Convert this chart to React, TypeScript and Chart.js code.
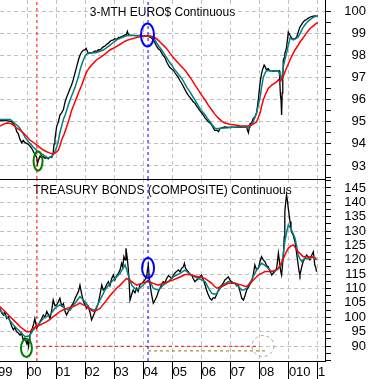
import React, { useEffect, useRef } from 'react';
import { Chart, registerables } from 'chart.js';

Chart.register(...registerables);

type P = [number, number];

// ---------- axis data ----------
const yearTicks = [1999, 2000, 2001, 2002, 2003, 2004, 2005, 2006, 2007, 2008, 2009, 2010];
const yearLabels = ['99', '00', '01', '02', '03', '04', '05', '06', '07', '08', '010', '1'];
const euroAxisTicks = [92.5, 93, 93.5, 94, 94.5, 95, 95.5, 96, 96.5, 97, 97.5, 98, 98.5, 99, 99.5, 100];
const bondAxisTicks = [85, 87.5, 90, 92.5, 95, 97.5, 100, 102.5, 105, 107.5, 110, 112.5, 115, 117.5, 120, 122.5, 125, 127.5, 130, 132.5, 135, 137.5, 140, 142.5, 145, 147.5];

const topTitle = '3-MTH EURO$ Continuous';
const bottomTitle = 'TREASURY BONDS (COMPOSITE) Continuous';

// ---------- series data (decimal year, value) ----------
const euroClose: P[] = [
  [1999.07, 95.05], [1999.30, 95.05], [1999.47, 95.0], [1999.53, 94.9], [1999.59, 94.8], [1999.65, 94.55], [1999.70, 94.45], [1999.76, 94.2], [1999.82, 94.04], [1999.87, 94.15], [1999.93, 94.05], [2000.02, 94.0], [2000.10, 93.9], [2000.16, 93.8], [2000.22, 93.65], [2000.28, 93.5], [2000.33, 93.4], [2000.36, 93.1], [2000.39, 93.25], [2000.45, 93.45], [2000.50, 93.38], [2000.56, 93.42], [2000.62, 93.35], [2000.68, 93.38], [2000.73, 93.32], [2000.79, 93.4], [2000.85, 93.38], [2000.90, 93.6], [2000.93, 94.0], [2000.96, 94.2], [2000.99, 94.5], [2001.02, 94.8], [2001.08, 95.0], [2001.13, 95.3], [2001.19, 95.4], [2001.25, 95.55], [2001.31, 95.9], [2001.36, 96.1], [2001.42, 96.3], [2001.48, 96.5], [2001.53, 96.65], [2001.59, 96.9], [2001.65, 97.2], [2001.71, 97.5], [2001.77, 97.8], [2001.82, 98.0], [2001.88, 98.15], [2001.94, 98.24], [2001.99, 98.25], [2002.03, 98.32], [2002.07, 98.2], [2002.11, 98.08], [2002.16, 98.12], [2002.22, 98.1], [2002.28, 98.15], [2002.34, 98.2], [2002.40, 98.18], [2002.45, 98.25], [2002.51, 98.24], [2002.57, 98.32], [2002.62, 98.38], [2002.68, 98.42], [2002.74, 98.5], [2002.80, 98.55], [2002.85, 98.62], [2002.91, 98.68], [2002.97, 98.7], [2003.02, 98.75], [2003.08, 98.72], [2003.14, 98.8], [2003.20, 98.82], [2003.25, 98.85], [2003.31, 98.88], [2003.37, 98.92], [2003.42, 98.95], [2003.45, 99.08], [2003.48, 98.95], [2003.54, 98.9], [2003.65, 98.9], [2003.77, 98.88], [2003.88, 98.9], [2004.00, 98.87], [2004.08, 98.88], [2004.17, 98.85], [2004.26, 98.8], [2004.34, 98.7], [2004.40, 98.55], [2004.46, 98.4], [2004.51, 98.3], [2004.57, 98.24], [2004.63, 98.1], [2004.68, 98.0], [2004.74, 97.9], [2004.80, 97.7], [2004.86, 97.56], [2004.91, 97.45], [2004.97, 97.38], [2005.03, 97.33], [2005.09, 97.2], [2005.14, 97.1], [2005.20, 97.0], [2005.26, 96.85], [2005.31, 96.75], [2005.37, 96.6], [2005.43, 96.45], [2005.49, 96.3], [2005.54, 96.2], [2005.60, 96.1], [2005.66, 96.0], [2005.71, 95.9], [2005.77, 95.84], [2005.83, 95.7], [2005.89, 95.6], [2005.94, 95.5], [2006.00, 95.4], [2006.06, 95.3], [2006.12, 95.16], [2006.17, 95.1], [2006.23, 95.0], [2006.29, 94.94], [2006.35, 94.85], [2006.40, 94.72], [2006.46, 94.6], [2006.52, 94.62], [2006.58, 94.55], [2006.63, 94.68], [2006.69, 94.72], [2006.80, 94.76], [2006.92, 94.74], [2007.03, 94.75], [2007.15, 94.74], [2007.26, 94.76], [2007.38, 94.75], [2007.49, 94.77], [2007.55, 94.76], [2007.58, 94.6], [2007.61, 94.5], [2007.64, 94.75], [2007.66, 94.9], [2007.72, 94.95], [2007.78, 95.16], [2007.83, 95.2], [2007.89, 95.4], [2007.92, 95.7], [2007.95, 96.0], [2007.98, 96.4], [2008.01, 96.75], [2008.05, 97.1], [2008.09, 97.33], [2008.12, 97.45], [2008.15, 97.56], [2008.18, 97.5], [2008.23, 97.35], [2008.29, 97.4], [2008.35, 97.3], [2008.41, 97.3], [2008.47, 97.28], [2008.52, 97.3], [2008.58, 97.3], [2008.64, 97.28], [2008.67, 97.3], [2008.69, 96.75], [2008.71, 96.2], [2008.73, 95.98], [2008.75, 95.3], [2008.77, 96.3], [2008.79, 97.0], [2008.81, 97.8], [2008.84, 97.9], [2008.86, 98.1], [2008.89, 98.2], [2008.92, 98.37], [2008.95, 98.7], [2008.98, 99.05], [2009.02, 98.95], [2009.07, 98.83], [2009.11, 98.75], [2009.15, 98.73], [2009.21, 98.75], [2009.27, 98.83], [2009.32, 99.05], [2009.38, 99.28], [2009.44, 99.4], [2009.49, 99.5], [2009.55, 99.58], [2009.61, 99.62], [2009.67, 99.68], [2009.72, 99.72], [2009.78, 99.75], [2009.84, 99.77], [2009.89, 99.78], [2009.95, 99.77], [2009.99, 99.78],
];

const euroFastAvg: P[] = [
  [1999.07, 95.1], [1999.30, 95.1], [1999.42, 95.1], [1999.50, 95.02], [1999.59, 94.92], [1999.68, 94.82], [1999.76, 94.7], [1999.85, 94.5], [1999.93, 94.3], [2000.02, 94.15], [2000.10, 94.02], [2000.22, 93.85], [2000.33, 93.7], [2000.45, 93.58], [2000.56, 93.5], [2000.65, 93.42], [2000.73, 93.36], [2000.82, 93.4], [2000.90, 93.5], [2000.96, 93.65], [2001.02, 93.86], [2001.08, 94.15], [2001.13, 94.5], [2001.19, 94.8], [2001.25, 95.1], [2001.31, 95.3], [2001.36, 95.5], [2001.42, 95.75], [2001.48, 95.98], [2001.53, 96.15], [2001.59, 96.35], [2001.65, 96.55], [2001.71, 96.8], [2001.77, 97.05], [2001.82, 97.33], [2001.88, 97.58], [2001.94, 97.8], [2001.99, 97.95], [2002.05, 98.06], [2002.13, 98.1], [2002.22, 98.1], [2002.39, 98.13], [2002.51, 98.18], [2002.62, 98.24], [2002.74, 98.35], [2002.85, 98.46], [2002.97, 98.58], [2003.08, 98.7], [2003.20, 98.77], [2003.31, 98.83], [2003.42, 98.88], [2003.54, 98.9], [2003.71, 98.9], [2003.88, 98.9], [2004.05, 98.88], [2004.17, 98.87], [2004.26, 98.85], [2004.34, 98.8], [2004.40, 98.7], [2004.46, 98.55], [2004.54, 98.4], [2004.63, 98.24], [2004.71, 98.08], [2004.80, 97.9], [2004.88, 97.72], [2004.97, 97.56], [2005.05, 97.4], [2005.14, 97.25], [2005.23, 97.1], [2005.31, 96.97], [2005.37, 96.85], [2005.43, 96.7], [2005.51, 96.52], [2005.60, 96.35], [2005.69, 96.15], [2005.77, 95.98], [2005.86, 95.78], [2005.94, 95.6], [2006.03, 95.45], [2006.12, 95.3], [2006.20, 95.15], [2006.29, 95.0], [2006.37, 94.85], [2006.46, 94.7], [2006.55, 94.68], [2006.63, 94.7], [2006.80, 94.72], [2006.92, 94.73], [2007.09, 94.75], [2007.26, 94.76], [2007.49, 94.77], [2007.61, 94.76], [2007.66, 94.78], [2007.72, 94.88], [2007.78, 95.0], [2007.83, 95.2], [2007.89, 95.4], [2007.95, 95.75], [2008.01, 96.1], [2008.06, 96.55], [2008.12, 97.0], [2008.18, 97.2], [2008.23, 97.3], [2008.41, 97.3], [2008.58, 97.29], [2008.64, 97.28], [2008.68, 97.2], [2008.73, 96.9], [2008.77, 97.1], [2008.81, 97.5], [2008.86, 97.8], [2008.92, 98.1], [2008.98, 98.45], [2009.04, 98.78], [2009.09, 98.74], [2009.15, 98.7], [2009.24, 98.75], [2009.32, 98.83], [2009.38, 98.98], [2009.44, 99.14], [2009.49, 99.26], [2009.55, 99.37], [2009.63, 99.5], [2009.72, 99.6], [2009.84, 99.72], [2009.95, 99.77], [2009.99, 99.77],
];

const euroSlowAvg: P[] = [
  [1999.07, 94.8], [1999.18, 94.88], [1999.30, 94.94], [1999.40, 94.93], [1999.47, 94.9], [1999.55, 94.82], [1999.64, 94.72], [1999.76, 94.62], [1999.87, 94.5], [1999.99, 94.33], [2000.10, 94.17], [2000.22, 94.06], [2000.33, 93.95], [2000.45, 93.83], [2000.56, 93.72], [2000.68, 93.64], [2000.79, 93.58], [2000.90, 93.54], [2000.99, 93.6], [2001.08, 93.72], [2001.13, 93.9], [2001.19, 94.17], [2001.28, 94.45], [2001.36, 94.76], [2001.45, 95.12], [2001.53, 95.5], [2001.62, 95.8], [2001.71, 96.1], [2001.79, 96.38], [2001.88, 96.65], [2001.96, 96.95], [2002.05, 97.25], [2002.13, 97.42], [2002.22, 97.56], [2002.31, 97.68], [2002.39, 97.8], [2002.51, 97.9], [2002.62, 98.0], [2002.74, 98.12], [2002.85, 98.24], [2002.97, 98.32], [2003.08, 98.4], [2003.20, 98.5], [2003.31, 98.6], [2003.42, 98.67], [2003.54, 98.72], [2003.65, 98.76], [2003.77, 98.8], [2003.88, 98.84], [2004.00, 98.87], [2004.11, 98.88], [2004.23, 98.87], [2004.32, 98.84], [2004.40, 98.8], [2004.48, 98.72], [2004.57, 98.6], [2004.68, 98.46], [2004.80, 98.3], [2004.91, 98.1], [2005.03, 97.9], [2005.14, 97.73], [2005.26, 97.56], [2005.34, 97.45], [2005.43, 97.33], [2005.54, 97.12], [2005.66, 96.9], [2005.77, 96.66], [2005.89, 96.43], [2006.00, 96.2], [2006.12, 95.98], [2006.23, 95.75], [2006.35, 95.53], [2006.46, 95.33], [2006.58, 95.16], [2006.69, 95.03], [2006.80, 94.94], [2006.97, 94.88], [2007.15, 94.85], [2007.32, 94.82], [2007.49, 94.8], [2007.61, 94.82], [2007.72, 94.85], [2007.83, 94.93], [2007.89, 95.0], [2007.95, 95.18], [2008.01, 95.4], [2008.06, 95.68], [2008.12, 95.98], [2008.20, 96.25], [2008.29, 96.5], [2008.41, 96.65], [2008.58, 96.8], [2008.64, 96.9], [2008.69, 96.82], [2008.75, 96.9], [2008.81, 97.05], [2008.86, 97.25], [2008.95, 97.52], [2009.04, 97.8], [2009.12, 98.02], [2009.21, 98.24], [2009.30, 98.42], [2009.38, 98.6], [2009.47, 98.75], [2009.55, 98.9], [2009.63, 99.05], [2009.72, 99.2], [2009.84, 99.33], [2009.95, 99.45], [2009.99, 99.48],
];

const bondClose: P[] = [
  [1999.07, 103.1], [1999.13, 101.5], [1999.19, 100.8], [1999.24, 101.8], [1999.30, 99.6], [1999.36, 100.2], [1999.42, 98.5], [1999.47, 97.0], [1999.53, 95.6], [1999.58, 96.5], [1999.64, 95.0], [1999.70, 94.5], [1999.76, 93.8], [1999.81, 94.6], [1999.87, 92.1], [1999.93, 92.8], [1999.99, 90.9], [2000.02, 91.8], [2000.05, 89.8], [2000.08, 92.0], [2000.10, 93.8], [2000.16, 95.5], [2000.22, 97.3], [2000.27, 99.6], [2000.30, 98.0], [2000.33, 96.2], [2000.39, 97.2], [2000.45, 98.5], [2000.50, 99.5], [2000.56, 100.8], [2000.62, 100.0], [2000.68, 102.0], [2000.73, 101.0], [2000.79, 99.6], [2000.85, 102.5], [2000.90, 106.0], [2000.96, 104.0], [2001.02, 104.3], [2001.08, 105.5], [2001.13, 106.6], [2001.19, 104.0], [2001.25, 104.8], [2001.31, 102.0], [2001.36, 100.8], [2001.42, 102.0], [2001.48, 103.1], [2001.53, 104.0], [2001.59, 104.9], [2001.65, 106.5], [2001.71, 107.8], [2001.77, 109.0], [2001.82, 111.2], [2001.88, 108.0], [2001.94, 105.4], [2001.99, 104.5], [2002.05, 103.1], [2002.10, 103.8], [2002.16, 102.0], [2002.22, 99.1], [2002.28, 100.5], [2002.34, 102.0], [2002.40, 103.5], [2002.45, 104.9], [2002.51, 108.0], [2002.57, 111.2], [2002.62, 109.5], [2002.68, 110.1], [2002.74, 111.5], [2002.80, 112.4], [2002.85, 111.0], [2002.91, 113.5], [2002.97, 114.7], [2003.02, 113.0], [2003.08, 114.5], [2003.14, 115.3], [2003.20, 116.5], [2003.25, 118.8], [2003.29, 117.5], [2003.33, 121.1], [2003.37, 120.0], [2003.40, 124.0], [2003.44, 121.0], [2003.48, 117.0], [2003.51, 112.0], [2003.54, 106.0], [2003.60, 108.0], [2003.65, 109.5], [2003.71, 108.5], [2003.77, 110.1], [2003.82, 109.0], [2003.88, 111.2], [2003.94, 111.8], [2004.00, 112.4], [2004.05, 113.0], [2004.11, 114.1], [2004.14, 116.5], [2004.17, 118.2], [2004.20, 114.0], [2004.23, 111.2], [2004.28, 108.0], [2004.34, 104.9], [2004.40, 106.0], [2004.46, 107.2], [2004.51, 108.8], [2004.57, 110.1], [2004.63, 111.5], [2004.68, 112.4], [2004.74, 112.0], [2004.80, 113.5], [2004.86, 114.5], [2004.91, 114.1], [2004.97, 113.5], [2005.03, 114.7], [2005.09, 115.5], [2005.14, 115.9], [2005.20, 116.5], [2005.26, 115.8], [2005.31, 117.0], [2005.37, 117.5], [2005.41, 118.8], [2005.45, 117.0], [2005.49, 116.5], [2005.54, 115.9], [2005.60, 115.0], [2005.66, 114.7], [2005.71, 113.5], [2005.77, 112.4], [2005.83, 113.0], [2005.89, 113.5], [2005.94, 114.2], [2006.00, 114.7], [2006.06, 113.0], [2006.12, 111.2], [2006.17, 109.5], [2006.23, 107.8], [2006.29, 106.5], [2006.35, 106.0], [2006.40, 106.8], [2006.46, 106.6], [2006.52, 108.0], [2006.58, 109.5], [2006.63, 110.5], [2006.69, 111.2], [2006.75, 112.0], [2006.80, 113.0], [2006.86, 113.5], [2006.92, 114.1], [2006.97, 113.0], [2007.03, 112.4], [2007.09, 112.0], [2007.15, 111.8], [2007.20, 111.0], [2007.26, 111.2], [2007.32, 109.0], [2007.38, 106.6], [2007.44, 106.0], [2007.49, 107.5], [2007.55, 109.5], [2007.61, 110.5], [2007.66, 111.5], [2007.72, 112.4], [2007.78, 115.0], [2007.83, 118.2], [2007.89, 116.5], [2007.95, 117.0], [2008.01, 119.5], [2008.06, 121.1], [2008.12, 120.0], [2008.18, 119.3], [2008.23, 118.0], [2008.29, 117.6], [2008.35, 116.0], [2008.41, 114.7], [2008.47, 115.5], [2008.52, 115.9], [2008.58, 117.0], [2008.64, 122.3], [2008.68, 119.0], [2008.72, 116.0], [2008.75, 114.7], [2008.78, 118.0], [2008.81, 121.5], [2008.84, 128.0], [2008.86, 136.7], [2008.89, 140.0], [2008.92, 142.6], [2008.95, 140.5], [2008.98, 137.9], [2009.01, 135.5], [2009.04, 133.3], [2009.07, 131.0], [2009.09, 129.8], [2009.15, 128.5], [2009.21, 126.3], [2009.27, 122.0], [2009.32, 118.2], [2009.35, 116.0], [2009.38, 114.7], [2009.44, 117.5], [2009.49, 119.4], [2009.55, 120.5], [2009.61, 121.7], [2009.67, 120.8], [2009.72, 120.0], [2009.78, 121.5], [2009.84, 122.8], [2009.89, 118.2], [2009.92, 117.5], [2009.95, 115.9],
];

const bondFastAvg: P[] = [
  [1999.07, 102.5], [1999.19, 101.3], [1999.30, 100.2], [1999.42, 98.8], [1999.53, 97.3], [1999.65, 96.1], [1999.76, 95.0], [1999.85, 94.1], [1999.93, 93.3], [2000.02, 93.3], [2000.10, 93.8], [2000.16, 94.7], [2000.22, 95.6], [2000.30, 96.5], [2000.39, 97.3], [2000.47, 98.5], [2000.56, 99.6], [2000.68, 100.2], [2000.79, 100.8], [2000.88, 102.0], [2000.96, 103.1], [2001.05, 103.8], [2001.13, 104.3], [2001.22, 103.7], [2001.31, 103.1], [2001.40, 102.7], [2001.48, 102.5], [2001.56, 103.6], [2001.65, 104.9], [2001.73, 106.0], [2001.82, 107.2], [2001.91, 106.3], [2001.99, 105.4], [2002.08, 104.2], [2002.16, 103.1], [2002.25, 102.7], [2002.34, 102.5], [2002.42, 104.2], [2002.51, 106.0], [2002.60, 107.8], [2002.68, 109.5], [2002.77, 110.7], [2002.85, 111.8], [2002.94, 112.7], [2003.02, 113.5], [2003.11, 114.4], [2003.20, 115.3], [2003.28, 116.8], [2003.37, 118.2], [2003.43, 116.5], [2003.48, 114.7], [2003.54, 113.0], [2003.60, 111.2], [2003.68, 110.3], [2003.77, 109.5], [2003.85, 110.1], [2003.94, 110.7], [2004.03, 111.6], [2004.11, 112.4], [2004.17, 113.0], [2004.23, 112.5], [2004.34, 110.1], [2004.42, 109.7], [2004.51, 109.5], [2004.60, 110.3], [2004.68, 111.2], [2004.77, 111.8], [2004.86, 112.4], [2004.94, 113.3], [2005.03, 114.1], [2005.14, 114.7], [2005.26, 115.3], [2005.34, 115.8], [2005.43, 116.4], [2005.54, 115.5], [2005.66, 114.7], [2005.77, 114.1], [2005.89, 113.5], [2006.00, 113.0], [2006.12, 112.4], [2006.23, 110.3], [2006.35, 108.3], [2006.44, 108.0], [2006.52, 108.3], [2006.60, 109.5], [2006.69, 110.7], [2006.80, 111.6], [2006.92, 112.4], [2007.03, 112.1], [2007.15, 111.8], [2007.26, 110.8], [2007.38, 109.5], [2007.46, 109.6], [2007.55, 110.1], [2007.63, 111.5], [2007.72, 113.0], [2007.80, 114.7], [2007.89, 116.4], [2007.97, 117.6], [2008.06, 118.8], [2008.15, 118.2], [2008.23, 117.6], [2008.32, 116.7], [2008.41, 115.9], [2008.50, 116.0], [2008.58, 116.4], [2008.67, 117.3], [2008.75, 118.2], [2008.80, 121.5], [2008.86, 126.3], [2008.92, 129.5], [2008.98, 132.1], [2009.04, 131.2], [2009.09, 130.4], [2009.15, 129.0], [2009.21, 127.5], [2009.27, 124.5], [2009.32, 121.7], [2009.38, 120.3], [2009.44, 119.4], [2009.49, 120.0], [2009.55, 120.5], [2009.63, 120.3], [2009.72, 120.5], [2009.78, 120.8], [2009.84, 121.1], [2009.89, 120.6], [2009.95, 119.9],
];

const bondSlowAvg: P[] = [
  [1999.07, 103.7], [1999.19, 102.5], [1999.30, 101.4], [1999.42, 100.2], [1999.53, 99.1], [1999.65, 97.9], [1999.76, 96.7], [1999.88, 95.8], [1999.99, 95.0], [2000.10, 95.0], [2000.22, 96.2], [2000.33, 96.8], [2000.45, 97.3], [2000.56, 97.9], [2000.68, 98.5], [2000.79, 99.3], [2000.90, 100.2], [2001.02, 101.1], [2001.13, 102.0], [2001.25, 102.6], [2001.36, 103.1], [2001.48, 103.4], [2001.59, 103.7], [2001.71, 104.3], [2001.82, 104.9], [2001.94, 104.3], [2002.05, 103.7], [2002.16, 102.8], [2002.28, 102.0], [2002.40, 102.5], [2002.51, 103.1], [2002.62, 104.5], [2002.74, 106.0], [2002.85, 107.5], [2002.97, 108.9], [2003.08, 110.1], [2003.20, 111.2], [2003.31, 112.4], [2003.42, 113.5], [2003.51, 113.0], [2003.60, 112.4], [2003.68, 111.8], [2003.77, 111.2], [2003.85, 111.5], [2003.94, 111.8], [2004.05, 112.2], [2004.17, 112.6], [2004.25, 112.2], [2004.34, 111.8], [2004.42, 111.5], [2004.51, 111.2], [2004.60, 111.5], [2004.68, 111.8], [2004.80, 112.2], [2004.91, 112.6], [2005.03, 113.0], [2005.14, 113.5], [2005.28, 114.1], [2005.43, 114.9], [2005.54, 114.9], [2005.66, 114.7], [2005.77, 114.4], [2005.89, 114.1], [2006.00, 113.8], [2006.12, 113.5], [2006.23, 112.7], [2006.35, 111.8], [2006.43, 110.9], [2006.52, 110.1], [2006.60, 110.4], [2006.69, 110.7], [2006.80, 111.2], [2006.92, 111.8], [2007.03, 111.8], [2007.15, 111.8], [2007.26, 111.5], [2007.38, 111.2], [2007.46, 110.9], [2007.55, 110.7], [2007.63, 111.5], [2007.72, 112.4], [2007.83, 113.5], [2007.95, 114.7], [2008.06, 115.3], [2008.18, 115.9], [2008.29, 115.9], [2008.41, 115.9], [2008.52, 116.4], [2008.64, 117.0], [2008.72, 118.5], [2008.81, 120.5], [2008.89, 122.3], [2008.98, 124.0], [2009.07, 124.8], [2009.15, 125.2], [2009.24, 124.0], [2009.32, 122.8], [2009.41, 121.9], [2009.49, 121.1], [2009.61, 121.1], [2009.72, 121.1], [2009.84, 120.8], [2009.95, 120.5],
];

// ---------- annotation data ----------
const markerDates = [2000.34, 2004.16]; // red and blue vertical dashed lines
const bondRefLevels = [89.9, 88.3]; // red and olive horizontal dashed lines
const bondRefStarts = [2000.34, 2004.16];
const bondRefEnds = [2008.01, 2008.18];
const euroMarks: P[] = [[2000.38, 93.22], [2004.14, 98.92]]; // green, blue ellipses
const bondMarks: P[] = [[1999.98, 89.3], [2004.16, 117.15]]; // green, blue ellipses
const bondTarget: P = [2008.11, 90.0]; // grey dashed circle

// ---------- layout constants ----------
const X_MIN = 1999.072;
const X_MAX = 2010.241;
const EURO_MIN = 92.41;
const EURO_MAX = 100.5;
const BOND_MIN = 84.78;
const BOND_MAX = 147.78;
const FONT = '"Liberation Sans", Arial, Helvetica, sans-serif';
const GRID = '#c0c0c0';

const zeroPad = (s: any) => {
  s.paddingTop = 0;
  s.paddingBottom = 0;
  s.paddingLeft = 0;
  s.paddingRight = 0;
};

const xScale = (showLabels: boolean) => ({
  type: 'linear',
  position: 'bottom',
  min: X_MIN,
  max: X_MAX,
  bounds: 'data',
  afterBuildTicks: (s: any) => {
    s.ticks = yearTicks.map((v) => ({ value: v }));
  },
  ticks: {
    display: showLabels,
    autoSkip: false,
    maxRotation: 0,
    minRotation: 0,
    align: 'start',
    padding: -14.5,
    color: '#000',
    font: { family: FONT, size: 13 },
    callback: (_v: any, i: number) => yearLabels[i],
  },
  grid: {
    color: GRID,
    lineWidth: 1,
    drawTicks: showLabels,
    tickLength: 18,
    tickColor: '#000',
    tickBorderDash: [],
  },
  border: { display: true, color: '#000', width: 1, dash: [4, 3] },
  afterFit: (s: any) => {
    s.height = showLabels ? 18 : 1;
    zeroPad(s);
  },
});

const yScale = (
  min: number,
  max: number,
  tickList: number[],
  isMajor: (v: number) => boolean,
  isLabeled: (v: number) => boolean,
) => ({
  type: 'linear',
  position: 'right',
  min,
  max,
  bounds: 'data',
  afterBuildTicks: (s: any) => {
    s.ticks = tickList.map((v) => ({ value: v }));
  },
  ticks: {
    autoSkip: false,
    crossAlign: 'far',
    padding: 0,
    color: '#000',
    font: { family: FONT, size: 13 },
    callback: (v: any) => (isLabeled(Number(v)) ? String(v) : ''),
  },
  grid: {
    color: (c: any) => (c.tick && isMajor(c.tick.value) ? GRID : 'rgba(0,0,0,0)'),
    lineWidth: 1,
    tickColor: '#000',
    tickLength: 6,
    drawTicks: true,
    tickBorderDash: [],
  },
  border: { display: true, color: '#000', width: 1, dash: [4, 3] },
  afterFit: (s: any) => {
    s.width = 41;
    zeroPad(s);
  },
});

const seriesLine = (pts: P[], color: string, width: number, extra: any = {}) => ({
  type: 'line',
  data: pts.map(([x, y]) => ({ x, y })),
  borderColor: color,
  borderWidth: width,
  pointRadius: 0,
  tension: 0,
  fill: false,
  ...extra,
});

const vLine = (t: number, min: number, max: number, color: string) =>
  seriesLine([[t, min], [t, max]], color, 1, { borderDash: [3, 3] });

type Mark = { p: P; rx: number; ry: number; color: string; dash?: number[]; width: number };

const overlayPlugin = (title: string, baseline: number, marks: Mark[]) => ({
  id: 'overlay',
  beforeDatasetsDraw(chart: any) {
    const { ctx, chartArea } = chart;
    ctx.save();
    ctx.font = `12px ${FONT}`;
    const w = ctx.measureText(title).width;
    const cx = (chartArea.left + chartArea.right) / 2;
    ctx.fillStyle = '#fff';
    ctx.fillRect(cx - w / 2 - 2, baseline - 11, w + 4, 14);
    ctx.fillStyle = '#000';
    ctx.textAlign = 'center';
    ctx.textBaseline = 'alphabetic';
    ctx.fillText(title, cx, baseline);
    ctx.restore();
  },
  afterDatasetsDraw(chart: any) {
    const { ctx } = chart;
    const xs = chart.scales.x;
    const ys = chart.scales.y;
    ctx.save();
    marks.forEach((m) => {
      const x = xs.getPixelForValue(m.p[0]);
      const y = ys.getPixelForValue(m.p[1]);
      ctx.beginPath();
      ctx.lineWidth = m.width;
      ctx.strokeStyle = m.color;
      ctx.setLineDash(m.dash || []);
      ctx.ellipse(x, y, m.rx, m.ry, 0, 0, Math.PI * 2);
      ctx.stroke();
    });
    ctx.restore();
  },
});

const baseOptions = (scales: any) => ({
  responsive: false,
  animation: false,
  devicePixelRatio: 1,
  events: [],
  layout: { padding: { left: 0, right: 5, top: 0, bottom: 0 } },
  plugins: { legend: { display: false }, tooltip: { enabled: false }, title: { display: false } },
  scales,
});

export default function App() {
  const topRef = useRef<HTMLCanvasElement>(null);
  const botRef = useRef<HTMLCanvasElement>(null);

  useEffect(() => {
    const top = new Chart(topRef.current as HTMLCanvasElement, {
      type: 'line',
      data: {
        datasets: [
          vLine(markerDates[0], EURO_MIN, EURO_MAX, '#ff0000'),
          vLine(markerDates[1], EURO_MIN, EURO_MAX, '#0000ff'),
          seriesLine(euroSlowAvg, '#ff0000', 1.5),
          seriesLine(euroFastAvg, '#008080', 1.5),
          seriesLine(euroClose, '#000000', 1.3),
        ] as any,
      },
      options: baseOptions({
        x: xScale(false),
        y: yScale(
          EURO_MIN,
          EURO_MAX,
          euroAxisTicks,
          (v) => Math.abs(v - Math.round(v)) < 1e-6 && v >= 93,
          (v) => Math.abs(v - Math.round(v)) < 1e-6 && v >= 93,
        ),
      }) as any,
      plugins: [
        overlayPlugin(topTitle, 15.5, [
          { p: euroMarks[0], rx: 4.5, ry: 9.5, color: '#008000', width: 2 },
          { p: euroMarks[1], rx: 6.5, ry: 11.5, color: '#0000ff', width: 2 },
        ]),
      ],
    });

    const bottom = new Chart(botRef.current as HTMLCanvasElement, {
      type: 'line',
      data: {
        datasets: [
          vLine(markerDates[0], BOND_MIN, BOND_MAX, '#ff0000'),
          vLine(markerDates[1], BOND_MIN, BOND_MAX, '#0000ff'),
          seriesLine([[bondRefStarts[0], bondRefLevels[0]], [bondRefEnds[0], bondRefLevels[0]]], '#ff0000', 1, { borderDash: [3, 3] }),
          seriesLine([[bondRefStarts[1], bondRefLevels[1]], [bondRefEnds[1], bondRefLevels[1]]], '#808000', 1, { borderDash: [3, 3] }),
          seriesLine(bondSlowAvg, '#ff0000', 1.5),
          seriesLine(bondFastAvg, '#008080', 1.5),
          seriesLine(bondClose, '#000000', 1.3),
        ] as any,
      },
      options: baseOptions({
        x: xScale(true),
        y: yScale(
          BOND_MIN,
          BOND_MAX,
          bondAxisTicks,
          (v) => v % 5 === 0 && v >= 90,
          (v) => v % 5 === 0 && v >= 90,
        ),
      }) as any,
      plugins: [
        overlayPlugin(bottomTitle, 13.5, [
          { p: bondMarks[0], rx: 5.5, ry: 9, color: '#008000', width: 2 },
          { p: bondMarks[1], rx: 6, ry: 10, color: '#0000ff', width: 2 },
          { p: bondTarget, rx: 11, ry: 10.5, color: '#a0a0a0', width: 1, dash: [3, 3] },
        ]),
      ],
    });

    return () => {
      top.destroy();
      bottom.destroy();
    };
  }, []);

  return (
    <div style={{ position: 'fixed', left: 0, top: 0, width: 371, height: 379, background: '#fff' }}>
      <canvas ref={topRef} width={371} height={180} style={{ display: 'block', width: 371, height: 180 }} />
      <canvas ref={botRef} width={371} height={199} style={{ display: 'block', width: 371, height: 199 }} />
    </div>
  );
}
